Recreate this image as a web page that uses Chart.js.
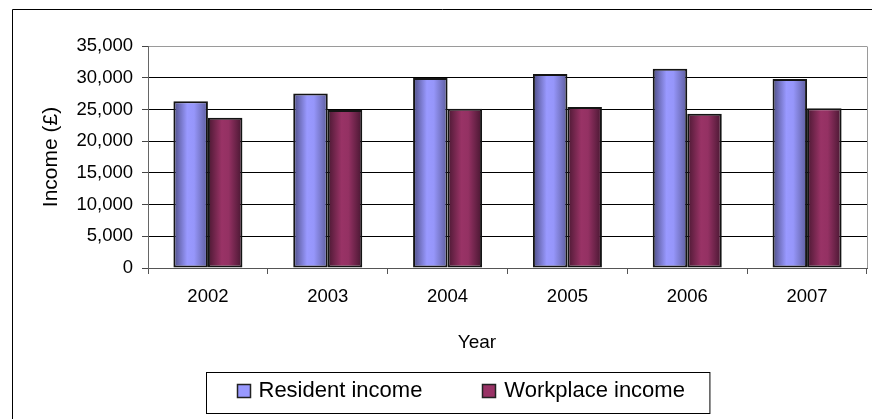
<!DOCTYPE html>
<html>
<head>
<meta charset="utf-8">
<script src="https://cdn.jsdelivr.net/npm/chart.js@4/dist/chart.umd.min.js"></script>
<style>
    html, body { margin: 0; padding: 0; background: #fff; }
    .chart-box { position: relative; width: 872px; height: 419px; }
</style>
</head>
<body>
<div class="chart-box"><canvas id="incomeChart"></canvas></div>
<script>
// Annual income by year
const years = ['2002', '2003', '2004', '2005', '2006', '2007'];
const residentIncome = [26300, 27500, 29950, 30600, 31400, 29800];
const workplaceIncome = [23700, 24900, 25100, 25400, 24300, 25200];
const seriesNames = ['Resident income', 'Workplace income'];
const yMin = 0;
const yMax = 35000;
const yStep = 5000;
const yTitle = 'Income (£)';
const xTitle = 'Year';

const FONT = "'Liberation Sans', Arial, Helvetica, sans-serif";

// Shaded bar fills (dark edge -> light middle -> dark edge)
const shades = [
    ['#4d4d85', '#9999ff', '#9696fa', '#5c5c9c'],
    ['#4a1832', '#993366', '#943163', '#461630']
];
const flatColours = ['#9999ff', '#993366'];

document.addEventListener('DOMContentLoaded', function() {
    initChart();
});

// Gives each bar its own horizontal gradient
const barShading = {
    id: 'barShading',
    beforeDatasetsDraw(chart) {
        const ctx = chart.ctx;
        chart.data.datasets.forEach((ds, i) => {
            const stops = shades[i];
            chart.getDatasetMeta(i).data.forEach(bar => {
                const { x, width } = bar.getProps(['x', 'width'], true);
                const g = ctx.createLinearGradient(x - width / 2, 0, x + width / 2, 0);
                g.addColorStop(0, stops[0]);
                g.addColorStop(0.4, stops[1]);
                g.addColorStop(0.6, stops[2]);
                g.addColorStop(1, stops[3]);
                bar.options.backgroundColor = g;
            });
        });
    }
};

// Outer frame, plot border, x title and boxed legend
const chartDecor = {
    id: 'chartDecor',
    afterDraw(chart) {
        const ctx = chart.ctx;
        const area = chart.chartArea;
        ctx.save();

        ctx.lineWidth = 1;
        ctx.strokeStyle = '#000';
        ctx.beginPath();
        ctx.moveTo(12.5, chart.height);
        ctx.lineTo(12.5, 9.5);
        ctx.lineTo(chart.width, 9.5);
        ctx.stroke();

        ctx.strokeStyle = '#9a9a9a';
        ctx.beginPath();
        ctx.moveTo(area.right + 0.5, area.top + 0.5);
        ctx.lineTo(area.right + 0.5, area.bottom);
        ctx.stroke();

        ctx.fillStyle = '#000';
        ctx.font = '19px ' + FONT;
        ctx.textAlign = 'center';
        ctx.textBaseline = 'middle';
        ctx.fillText(xTitle, 477, 343);

        // legend
        ctx.font = '22px ' + FONT;
        const sw = 13, swGap = 9, itemGap = 60, padL = 30, padR = 25;
        const widths = seriesNames.map(n => ctx.measureText(n).width);
        let boxW = padL + padR;
        widths.forEach((w, i) => { boxW += sw + swGap + w + (i > 0 ? itemGap : 0); });
        const boxL = Math.round(457.5 - boxW / 2) + 0.5;
        const boxT = 372.5, boxH = 41, midY = 391;
        ctx.fillStyle = '#fff';
        ctx.fillRect(boxL, boxT, boxW, boxH);
        ctx.strokeStyle = '#000';
        ctx.strokeRect(boxL, boxT, boxW, boxH);

        let x = boxL + padL;
        seriesNames.forEach((name, i) => {
            const sx = Math.round(x) + 0.5;
            ctx.fillStyle = flatColours[i];
            ctx.fillRect(sx, midY - 6.5, sw, sw);
            ctx.lineWidth = 1.5;
            ctx.strokeStyle = '#222';
            ctx.strokeRect(sx, midY - 6.5, sw, sw);
            ctx.fillStyle = '#000';
            ctx.textAlign = 'left';
            ctx.fillText(name, x + sw + swGap, midY);
            x += sw + swGap + widths[i] + itemGap;
        });

        ctx.restore();
    }
};

function initChart() {
    const canvas = document.getElementById('incomeChart');
    const datasetStyle = {
        borderColor: '#141414',
        borderWidth: 2,
        borderSkipped: false,
        categoryPercentage: 0.576,
        barPercentage: 1.0
    };

    window.incomeChart = new Chart(canvas, {
        type: 'bar',
        data: {
            labels: years,
            datasets: [
                Object.assign({
                    label: seriesNames[0],
                    data: residentIncome,
                    backgroundColor: ctx => flatColours[0]
                }, datasetStyle),
                Object.assign({
                    label: seriesNames[1],
                    data: workplaceIncome,
                    backgroundColor: ctx => flatColours[1]
                }, datasetStyle)
            ]
        },
        options: {
            responsive: true,
            maintainAspectRatio: false,
            animation: false,
            layout: {
                padding: { left: 0, top: 46, right: 5, bottom: 0 }
            },
            plugins: {
                legend: { display: false },
                tooltip: { enabled: false }
            },
            scales: {
                x: {
                    afterFit: scale => { scale.height = 151; },
                    grid: {
                        drawOnChartArea: false,
                        drawTicks: true,
                        tickLength: 6,
                        color: '#555'
                    },
                    border: { color: '#555' },
                    ticks: {
                        color: '#000',
                        padding: 12,
                        font: { family: FONT, size: 18.5 }
                    }
                },
                y: {
                    min: yMin,
                    max: yMax,
                    afterFit: scale => { scale.width = 148; },
                    grid: {
                        color: c => (c.tick && c.tick.value === yMax) ? '#9a9a9a' : '#000',
                        tickColor: '#444',
                        tickLength: 6
                    },
                    border: { color: '#666' },
                    ticks: {
                        stepSize: yStep,
                        color: '#000',
                        padding: 9,
                        font: { family: FONT, size: 18.5 },
                        callback: v => v.toLocaleString('en-US')
                    },
                    title: {
                        display: true,
                        text: yTitle,
                        color: '#000',
                        padding: { top: 39, bottom: 0 },
                        font: { family: FONT, size: 21 }
                    }
                }
            }
        },
        plugins: [barShading, chartDecor]
    });
}
</script>
</body>
</html>
